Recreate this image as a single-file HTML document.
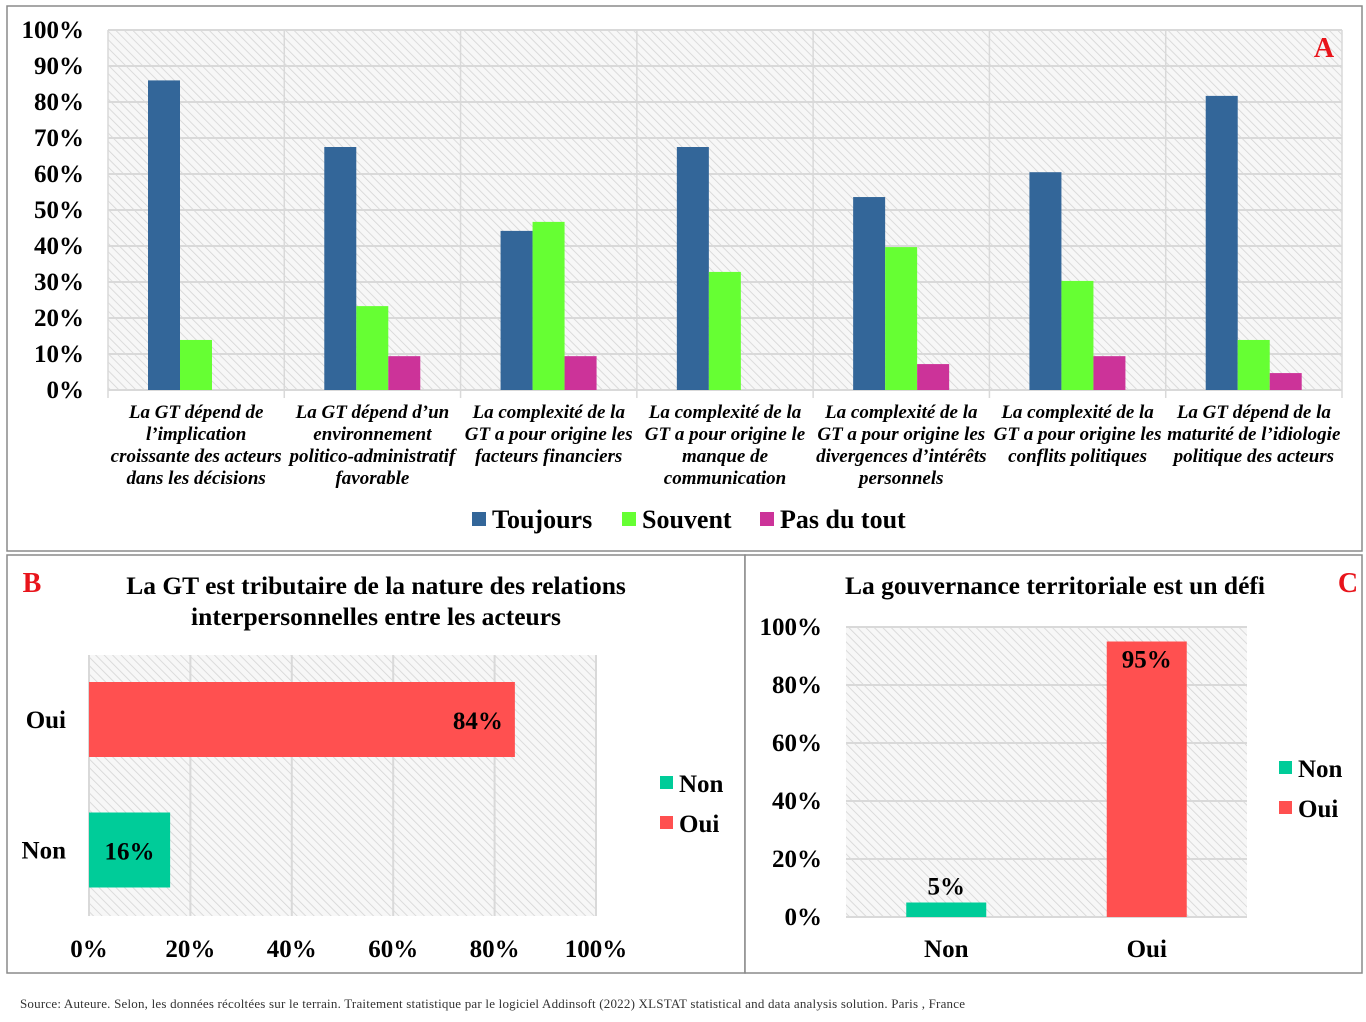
<!DOCTYPE html>
<html><head><meta charset="utf-8"><style>
html,body{margin:0;padding:0;background:#fff;}
svg text{font-family:"Liberation Serif",serif;font-weight:bold;fill:#000;}
</style></head><body>
<svg id="root" width="1366" height="1017" viewBox="0 0 1366 1017" xmlns="http://www.w3.org/2000/svg">
<defs>
<pattern id="hatch" width="6" height="6" patternUnits="userSpaceOnUse" patternTransform="rotate(-45)">
<rect width="6" height="6" fill="#f7f7f7"/><line x1="0" y1="0" x2="0" y2="6" stroke="#d4d4d4" stroke-width="1.6"/>
</pattern>
</defs>
<rect x="7" y="6" width="1355" height="545" fill="#fff" stroke="#8a8a8a" stroke-width="1.5"/>
<rect x="7" y="555" width="738" height="418" fill="#fff" stroke="#8a8a8a" stroke-width="1.5"/>
<rect x="745" y="555" width="617" height="418" fill="#fff" stroke="#8a8a8a" stroke-width="1.5"/>
<g id="ga"></g><g id="gb"></g><g id="gc"></g>
<text x="1324" y="57" font-size="28" style="fill:#e8141b" text-anchor="middle">A</text>
<text x="32" y="592" font-size="28" style="fill:#e8141b" text-anchor="middle">B</text>
<text x="1348" y="592" font-size="28" style="fill:#e8141b" text-anchor="middle">C</text>
<text x="376" y="594" font-size="25.5" text-anchor="middle">La GT est tributaire de la nature des relations</text>
<text x="376" y="625" font-size="25.5" text-anchor="middle">interpersonnelles entre les acteurs</text>
<text x="1055" y="594" font-size="25.5" text-anchor="middle">La gouvernance territoriale est un défi</text>
<text x="20" y="1008" font-size="13" textLength="945" style="font-weight:normal;fill:#333">Source: Auteure. Selon, les données récoltées sur le terrain. Traitement statistique par le logiciel  Addinsoft (2022) XLSTAT statistical  and data analysis solution.  Paris , France</text>
</svg>
<script>
const NS="http://www.w3.org/2000/svg";
function mk(p,t,a,txt){const e=document.createElementNS(NS,t);for(const k in a)e.setAttribute(k,a[k]);if(txt!==undefined)e.textContent=txt;p.appendChild(e);return e;}
// Panel A data
const catsA=[["La GT dépend de","l’implication","croissante des acteurs","dans les décisions"],["La GT  dépend d’un","environnement","politico-administratif","favorable"],["La complexité de la","GT a pour origine les","facteurs financiers"],["La complexité de la","GT a pour origine le","manque de","communication"],["La complexité de la","GT a pour origine les","divergences d’intérêts","personnels"],["La complexité de la","GT  a pour origine les","conflits politiques"],["La GT dépend de la","maturité de l’idiologie","politique des acteurs"]];
const toujours=[86,67.5,44.2,67.5,53.6,60.5,81.7];
const souvent=[13.9,23.3,46.7,32.8,39.7,30.3,13.9];
const pasDuTout=[0,9.4,9.4,0,7.2,9.4,4.7];
const ticksA=[0,10,20,30,40,50,60,70,80,90,100];
const seriesA=[["Toujours",toujours,"#336699"],["Souvent",souvent,"#66ff33"],["Pas du tout",pasDuTout,"#cc3399"]];
// Panel B data
const catsB=["Oui","Non"];const valsB=[84,16];const colB=["#ff5050","#00cc99"];
const ticksB=[0,20,40,60,80,100];
// Panel C data
const catsC=["Non","Oui"];const valsC=[5,95];const colC=["#00cc99","#ff5050"];
const ticksC=[0,20,40,60,80,100];

// ---- Panel A
const ga=document.getElementById('ga');
const ax0=108,ax1=1342,ay0=390,ay1=30;
const yA=v=>ay0-(ay0-ay1)*v/100;
const gw=(ax1-ax0)/catsA.length;
mk(ga,'rect',{x:ax0,y:ay1,width:ax1-ax0,height:ay0-ay1,fill:'url(#hatch)'});
ticksA.forEach(t=>{
 const l=mk(ga,'line',{x1:ax0,x2:ax1,y1:yA(t),y2:yA(t),stroke:'#d9d9d9','stroke-width':2});
 
 const tx=mk(ga,'text',{x:84,y:yA(t)+8,'font-size':25,'text-anchor':'end'},t+'%');
 
});
for(let i=0;i<=catsA.length;i++){const l=mk(ga,'line',{x1:ax0+gw*i,x2:ax0+gw*i,y1:ay1,y2:ay0+8,stroke:'#d9d9d9','stroke-width':1.5});}
const bw=32;
catsA.forEach((c,i)=>{
 seriesA.forEach((s,j)=>{
  const v=s[1][i];if(v<=0)return;
  const r=mk(ga,'rect',{x:ax0+gw*i+40+bw*j,y:yA(v),width:bw,height:ay0-yA(v),fill:s[2]});
  
  
 });
 c.forEach((ln,k)=>{const t=mk(ga,'text',{x:ax0+gw*(i+0.5),y:418+k*22,'font-size':19,'text-anchor':'middle','font-style':'italic'},ln);
  });
});
const legX=[472,622,760];
seriesA.forEach((s,j)=>{
 const r=mk(ga,'rect',{x:legX[j],y:512,width:14,height:14,fill:s[2]});
 
 const t=mk(ga,'text',{x:legX[j]+20,y:528,'font-size':26},s[0]);
 
});

// ---- Panel B
const gb=document.getElementById('gb');
const bx0=89,bx1=596,by0=655,by1=916;
const xB=v=>bx0+(bx1-bx0)*v/100;
mk(gb,'rect',{x:bx0,y:by0,width:bx1-bx0,height:by1-by0,fill:'url(#hatch)'});
ticksB.forEach(t=>{
 const l=mk(gb,'line',{x1:xB(t),x2:xB(t),y1:by0,y2:by1,stroke:'#d9d9d9','stroke-width':2});
 
 const tx=mk(gb,'text',{x:xB(t),y:957,'font-size':25,'text-anchor':'middle'},t+'%');
 
});
const bandB=(by1-by0)/catsB.length;
catsB.forEach((c,i)=>{
 const yy=by0+bandB*i+27;
 const r=mk(gb,'rect',{x:bx0,y:yy,width:xB(valsB[i])-bx0,height:75,fill:colB[i]});
 
 const lb=mk(gb,'text',{x:66,y:yy+46,'font-size':25,'text-anchor':'end'},c);
 
 const vl=mk(gb,'text',{x:i==0?xB(valsB[i])-12:(bx0+xB(valsB[i]))/2,y:yy+47,'font-size':25,'text-anchor':i==0?'end':'middle'},valsB[i]+'%');
 
});
[["Non","#00cc99",783],["Oui","#ff5050",823]].forEach(e=>{
 const r=mk(gb,'rect',{x:660,y:e[2]-7,width:13,height:13,fill:e[1]});
 const t=mk(gb,'text',{x:679,y:e[2]+9,'font-size':25},e[0]);
});

// ---- Panel C
const gc=document.getElementById('gc');
const cx0=846,cx1=1247,cy0=917,cy1=627;
const yC=v=>cy0-(cy0-cy1)*v/100;
mk(gc,'rect',{x:cx0,y:cy1,width:cx1-cx0,height:cy0-cy1,fill:'url(#hatch)'});
ticksC.forEach(t=>{
 const l=mk(gc,'line',{x1:cx0,x2:cx1,y1:yC(t),y2:yC(t),stroke:'#d9d9d9','stroke-width':2});
 
 const tx=mk(gc,'text',{x:822,y:yC(t)+8,'font-size':25,'text-anchor':'end'},t+'%');
 
});
const bandC=(cx1-cx0)/catsC.length;
catsC.forEach((c,i)=>{
 const xc=cx0+bandC*(i+0.5);
 const r=mk(gc,'rect',{x:xc-40,y:yC(valsC[i]),width:80,height:cy0-yC(valsC[i]),fill:colC[i]});
 
 const lb=mk(gc,'text',{x:xc,y:957,'font-size':25,'text-anchor':'middle'},c);
 
 const inside=valsC[i]>20;
 const vl=mk(gc,'text',{x:xc,y:inside?yC(valsC[i])+26:yC(valsC[i])-8,'font-size':25,'text-anchor':'middle'},valsC[i]+'%');
 
});
[["Non","#00cc99",768],["Oui","#ff5050",808]].forEach(e=>{
 const r=mk(gc,'rect',{x:1279,y:e[2]-7,width:13,height:13,fill:e[1]});
 const t=mk(gc,'text',{x:1298,y:e[2]+9,'font-size':25},e[0]);
});
</script>
</body></html>
